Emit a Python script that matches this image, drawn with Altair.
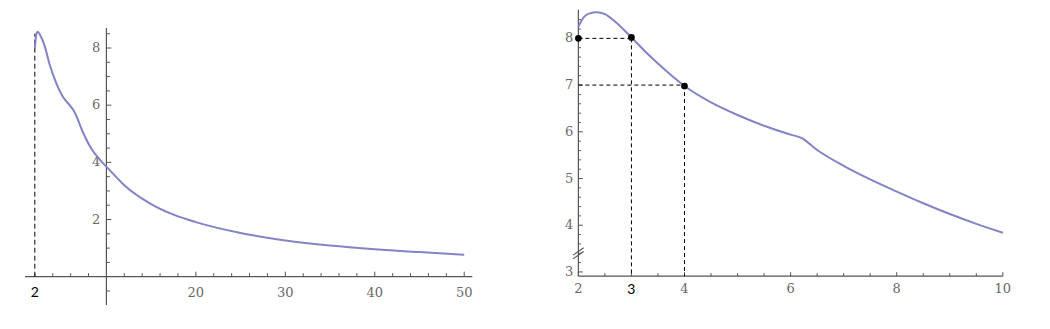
import altair as alt
import pandas as pd

# ---------------- data ----------------
# left panel (full range 2..50)
L_X = [2, 2.15, 2.33, 2.6, 3.07, 3.63, 4.38, 5.12, 6.05, 6.42, 7.35, 8.29, 9.41, 10.15, 12, 15, 17.5, 20, 25, 30, 35, 40, 45, 50]
L_Y = [7.99, 8.45, 8.57, 8.45, 8.1, 7.45, 6.78, 6.3, 5.94, 5.77, 5.07, 4.49, 4.04, 3.8, 3.2, 2.54, 2.17, 1.91, 1.53, 1.27, 1.09, 0.96, 0.86, 0.77]
# right panel (zoom 2..10)
R_X = [2, 2.1, 2.2, 2.35, 2.5, 2.7, 3, 3.25, 3.5, 3.75, 4, 4.5, 5, 5.5, 6, 6.21, 6.5, 7, 7.5, 8, 8.5, 9, 9.5, 10]
R_Y = [8.25, 8.45, 8.53, 8.56, 8.52, 8.35, 8.02, 7.73, 7.46, 7.21, 6.98, 6.63, 6.36, 6.13, 5.94, 5.865, 5.61, 5.27, 4.98, 4.72, 4.47, 4.24, 4.03, 3.84]

# ticks / labels
L_XLAB = [20, 30, 40, 50]
L_XMINOR = [2, 4, 6, 8, 12, 14, 16, 18, 22, 24, 26, 28, 32, 34, 36, 38, 42, 44, 46, 48]
L_YLAB = [2, 4, 6, 8]
L_YMINOR = [-0.5, 0.5, 1, 1.5, 2.5, 3, 3.5, 4.5, 5, 5.5, 6.5, 7, 7.5, 8.5]
R_XLAB = [2, 4, 6, 8, 10]
R_XMINOR = [2.5, 3, 3.5, 4.5, 5, 5.5, 6.5, 7, 7.5, 8.5, 9, 9.5]
R_YLAB = [3, 4, 5, 6, 7, 8]
R_YMINOR = [round(3 + 0.2 * i, 1) for i in range(1, 28) if (i % 5) != 0]

# annotations
L_MARK_X = [2]
R_PTS_X = [2, 3, 4]
R_PTS_Y = [8, 8.02, 6.98]

# axis positions (data units)
L_AXIS_Y0, L_AXIS_X0 = 0, 10
R_AXIS_Y0, R_AXIS_X0 = 2.91, 2

LINE_COLOR = "#8383c6"
AX_COLOR = "#555555"
LAB_COLOR = "#686868"
LAB_FONT = "DejaVu Serif"


def panel(xdom, ydom, w, h, cx, cy, xlab, xminor, ylab, yminor, xspan, yspan,
          xmaj_len, xmin_len, ymaj_len, ymin_len, xlab_dy, ylab_dx):
    xs = alt.Scale(domain=xdom, nice=False, zero=False)
    ys = alt.Scale(domain=ydom, nice=False, zero=False)
    X = lambda f: alt.X(f, type="quantitative", scale=xs, axis=None)
    Y = lambda f: alt.Y(f, type="quantitative", scale=ys, axis=None)
    layers = []
    # axis lines
    layers.append(alt.Chart(pd.DataFrame({"x": [xspan[0]], "x2": [xspan[1]], "y": [cy]}))
                  .mark_rule(color=AX_COLOR, strokeWidth=1.2)
                  .encode(x=X("x"), x2="x2", y=Y("y")))
    layers.append(alt.Chart(pd.DataFrame({"x": [cx], "y": [yspan[0]], "y2": [yspan[1]]}))
                  .mark_rule(color=AX_COLOR, strokeWidth=1.2)
                  .encode(x=X("x"), y=Y("y"), y2="y2"))
    # x ticks
    for vals, ln in ((xlab, xmaj_len), (xminor, xmin_len)):
        layers.append(alt.Chart(pd.DataFrame({"t": vals, "y": [cy] * len(vals)}))
                      .mark_rule(color=AX_COLOR, strokeWidth=1, y2Offset=-ln)
                      .encode(x=X("t"), y=Y("y"), y2="y"))
    for vals, ln in ((ylab, ymaj_len), (yminor, ymin_len)):
        layers.append(alt.Chart(pd.DataFrame({"t": vals, "x": [cx] * len(vals)}))
                      .mark_rule(color=AX_COLOR, strokeWidth=1, x2Offset=ln)
                      .encode(y=Y("t"), x=X("x"), x2="x"))
    # labels
    layers.append(alt.Chart(pd.DataFrame({"t": xlab, "y": [cy] * len(xlab), "s": [str(v) for v in xlab]}))
                  .mark_text(font=LAB_FONT, fontSize=13, color=LAB_COLOR, dy=xlab_dy, baseline="middle")
                  .encode(x=X("t"), y=Y("y"), text="s"))
    layers.append(alt.Chart(pd.DataFrame({"t": ylab, "x": [cx] * len(ylab), "s": [str(v) for v in ylab]}))
                  .mark_text(font=LAB_FONT, fontSize=13, color=LAB_COLOR, dx=ylab_dx, align="right", baseline="middle")
                  .encode(y=Y("t"), x=X("x"), text="s"))
    return layers, X, Y


# ---------------- left panel ----------------
lw, lh = 492, 313
layersL, XL, YL = panel([-1, 54], [-1.55, 9.4], lw, lh, L_AXIS_X0, L_AXIS_Y0,
                        L_XLAB, L_XMINOR, L_YLAB, L_YMINOR, (0.9, 50.9), (-0.99, 8.7),
                        5, 3.5, 5, 3.5, 16, -6)
layersL.append(alt.Chart(pd.DataFrame({"x": L_MARK_X, "y": [0], "y2": [8.5]}))
               .mark_rule(color="black", strokeDash=[5, 3], strokeWidth=1)
               .encode(x=XL("x"), y=YL("y"), y2="y2"))
layersL.append(alt.Chart(pd.DataFrame({"x": L_MARK_X, "y": [0], "s": ["2"]}))
               .mark_text(font="Lato", fontSize=14, color="black", dy=16, baseline="middle")
               .encode(x=XL("x"), y=YL("y"), text="s"))
layersL.append(alt.Chart(pd.DataFrame({"x": L_X, "y": L_Y}))
               .mark_line(color=LINE_COLOR, strokeWidth=2, interpolate="monotone")
               .encode(x=XL("x"), y=YL("y")))
left = alt.layer(*layersL).properties(width=lw, height=lh)

# ---------------- right panel ----------------
rw, rh = 520, 313
layersR, XR, YR = panel([0.9, 10.7], [1.95, 8.65], rw, rh, R_AXIS_X0, R_AXIS_Y0,
                        R_XLAB, R_XMINOR, R_YLAB, R_YMINOR, (2, 10), (2.91, 8.61),
                        4, 3, 4.5, 2.5, 13, -5)
# dashed guides
guides = pd.DataFrame({
    "x": [2, 3, 2, 4], "x2": [3, 3, 4, 4],
    "y": [8, 8, 7, 7], "y2": [8, R_AXIS_Y0, 7, R_AXIS_Y0],
})
layersR.append(alt.Chart(guides)
               .mark_rule(color="black", strokeDash=[4, 3], strokeWidth=1)
               .encode(x=XR("x"), x2="x2", y=YR("y"), y2="y2"))
# axis break marks
brk = pd.DataFrame({"x": [1.9, 1.9], "x2": [2.1, 2.1], "y": [3.36, 3.28], "y2": [3.52, 3.44]})
layersR.append(alt.Chart(brk)
               .mark_rule(color=AX_COLOR, strokeWidth=1.2)
               .encode(x=XR("x"), x2="x2", y=YR("y"), y2="y2"))
layersR.append(alt.Chart(pd.DataFrame({"x": [3], "y": [R_AXIS_Y0], "s": ["3"]}))
               .mark_text(font="Lato", fontSize=14, color="black", dy=14, baseline="middle")
               .encode(x=XR("x"), y=YR("y"), text="s"))
layersR.append(alt.Chart(pd.DataFrame({"x": R_X, "y": R_Y}))
               .mark_line(color=LINE_COLOR, strokeWidth=2, interpolate="monotone")
               .encode(x=XR("x"), y=YR("y")))
layersR.append(alt.Chart(pd.DataFrame({"x": R_PTS_X, "y": R_PTS_Y}))
               .mark_circle(color="black", size=45, opacity=1)
               .encode(x=XR("x"), y=YR("y")))
right = alt.layer(*layersR).properties(width=rw, height=rh)

chart = (alt.hconcat(left, right, spacing=20)
         .properties(padding=0)
         .configure_view(stroke=None))

chart.save("out.html", embed_options={"renderer": "svg", "actions": False})
